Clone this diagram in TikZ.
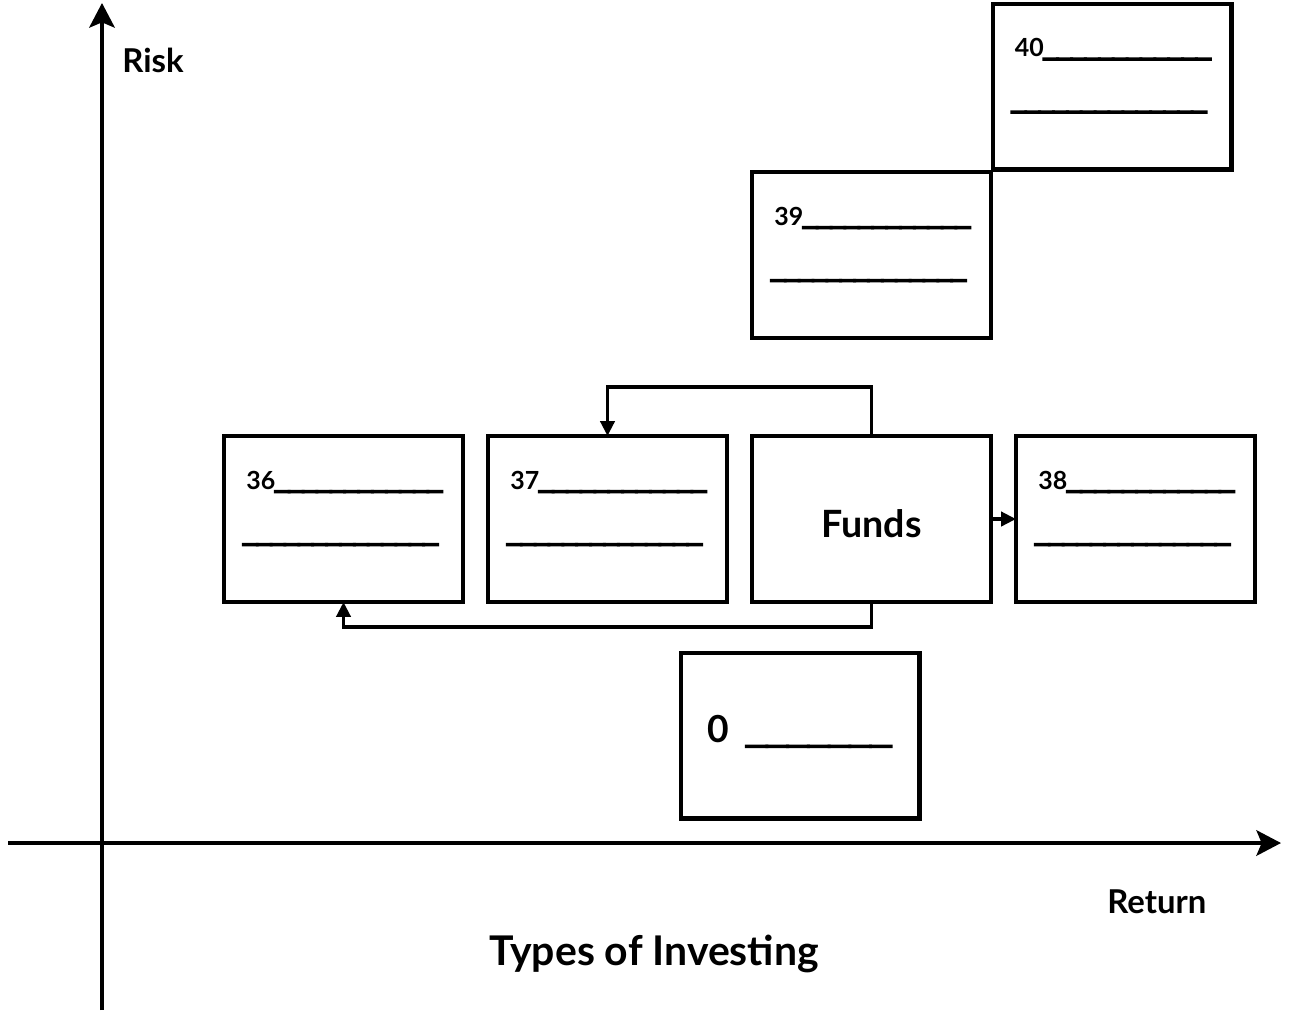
\documentclass[tikz,border=0pt]{standalone}
\usepackage{fontspec}
\setmainfont{Lato}
% heavy underscores for the fill-in blanks
\newfontfamily\ulfont{Liberation Sans}[FakeBold=10]
\newfontfamily\ulfontbig{Liberation Sans}[FakeBold=6]
\usetikzlibrary{arrows.meta,calc}

\newcommand{\fs}[1]{\fontsize{#1}{1.2\dimexpr#1\relax}\selectfont\bfseries}
\newcommand{\blanks}[1]{{\ulfont #1}}
\newcommand{\blanksbig}[1]{{\ulfontbig #1}}

\begin{document}
\begin{tikzpicture}[x=0.02cm,y=-0.02cm,
  axis/.style={line width=2.2pt,-{Stealth[length=14pt,width=14.5pt,inset=3pt]}},
  card/.style={draw,line width=2.3pt,minimum width=4.78cm,minimum height=3.32cm,
               inner sep=0pt,outer sep=0pt},
  conn/.style={line width=2.2pt,-{Triangle[length=8.5pt,width=8pt]}},
  lbl/.style={anchor=base west,inner sep=0pt,font=\fs{14.2pt}},
  axlbl/.style={anchor=base west,inner sep=0pt,font=\fs{18.7pt}}]

  % frame
  \useasboundingbox (0,0) rectangle (1290,1012);

  % axes
  \coordinate (yb) at (102,1010);
  \coordinate (yt) at (102,3);
  \coordinate (xl) at (8,843);
  \coordinate (xr) at (1281,843);
  \draw[axis] (yb) -- (yt);
  \draw[axis] (xl) -- (xr);

  \node[axlbl] (risk) at (122,72) {Risk};
  \node[axlbl] (ret) at (1107,913) {Return};
  \node[anchor=base,inner sep=0pt,font=\fs{23.3pt}] (title) at (654,965) {Types of Investing};

  % boxes
  \node[card] (b36) at (343.5,519) {};
  \node[card] (b37) at (607.5,519) {};
  \node[card,font=\fs{21.4pt}] (funds) at (871.5,519) {\raisebox{-10.8pt}[0pt][0pt]{Funds}};
  \node[card] (b38) at (1135.5,519) {};
  \node[card] (b39) at (871.5,255) {};
  \node[card] (b40) at (1112,86.5) {};
  \node[card] (b0) at (800,735.5) {};

  % fill-in lines
  \foreach \b/\n in {b36/36,b37/37,b38/38,b39/39,b40/40}{
    \node[lbl] (\b-a) at ($(\b.north west)+(22,53)$)
      {\n\blanks{\_\_\_\_\_\_\_\_\_\_\_\_}};
    \node[lbl] (\b-b) at ($(\b.north west)+(19,106)$)
      {\blanks{\_\_\_\_\_\_\_\_\_\_\_\_\_\_}};
  }
  \node[anchor=base west,inner sep=0pt,font=\fs{21.2pt}] (b0-a) at ($(b0.north west)+(27,90)$)
    {0\hspace{0.45em}\blanksbig{\_\_\_\_\_\_\_}};

  % connectors
  \coordinate (top) at (0,387);
  \coordinate (bot) at (0,627);
  \draw[conn] (funds.north) -- (funds.north |- top) -| (b37.north);
  \draw[conn] (funds.south) -- (funds.south |- bot) -| (b36.south);
  \draw[conn] (funds.east) -- (b38.west);
\end{tikzpicture}
\end{document}
